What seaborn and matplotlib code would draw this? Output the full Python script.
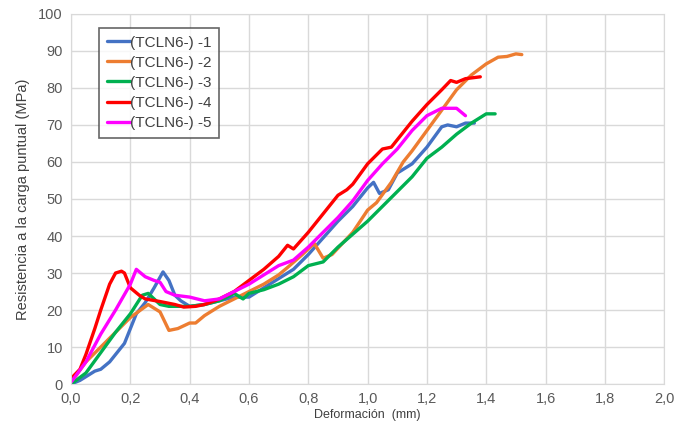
import matplotlib
matplotlib.use('Agg')
import matplotlib.pyplot as plt
import pandas as pd
import seaborn as sns

# ======== Datos ========
x1 = [0.0, 0.03, 0.05, 0.08, 0.10, 0.13, 0.15, 0.18, 0.20, 0.22, 0.25, 0.28, 0.31, 0.33, 0.35,
      0.37, 0.40, 0.45, 0.50, 0.55, 0.60, 0.65, 0.70, 0.75, 0.80, 0.85, 0.90, 0.95, 1.00,
      1.02, 1.04, 1.07, 1.10, 1.15, 1.20, 1.25, 1.27, 1.30, 1.33, 1.36]
y1 = [0.0, 1.0, 2.0, 3.5, 4.0, 6.0, 8.0, 11.0, 15.0, 19.0, 22.0, 26.0, 30.3, 28.0, 24.0,
      22.5, 21.0, 21.5, 22.5, 23.5, 23.5, 26.0, 28.5, 31.0, 35.0, 39.5, 44.0, 48.0, 53.0,
      54.5, 51.5, 52.5, 57.0, 59.5, 64.0, 69.5, 70.0, 69.5, 70.5, 70.5]

x2 = [0.0, 0.05, 0.10, 0.15, 0.20, 0.26, 0.28, 0.30, 0.33, 0.36, 0.40, 0.42, 0.45, 0.50,
      0.55, 0.60, 0.65, 0.70, 0.73, 0.78, 0.82, 0.85, 0.88, 0.95, 1.00, 1.03, 1.08, 1.12,
      1.15, 1.20, 1.25, 1.30, 1.35, 1.40, 1.44, 1.47, 1.50, 1.52]
y2 = [0.5, 6.0, 10.0, 14.0, 18.0, 21.5, 20.5, 19.5, 14.5, 15.0, 16.5, 16.5, 18.5, 21.0,
      23.0, 25.0, 27.0, 29.5, 31.5, 35.0, 38.0, 34.0, 35.0, 41.0, 47.0, 49.0, 54.5, 60.0,
      63.0, 68.5, 74.0, 79.5, 83.5, 86.5, 88.3, 88.5, 89.2, 89.0]

x3 = [0.0, 0.05, 0.10, 0.15, 0.20, 0.24, 0.26, 0.28, 0.30, 0.33, 0.35, 0.40, 0.45, 0.50,
      0.55, 0.58, 0.60, 0.65, 0.70, 0.75, 0.80, 0.85, 0.90, 0.95, 1.00, 1.05, 1.10, 1.15,
      1.20, 1.25, 1.30, 1.35, 1.40, 1.43]
y3 = [0.0, 3.0, 8.5, 14.0, 19.0, 24.0, 24.5, 23.0, 21.5, 21.0, 21.0, 21.0, 21.5, 22.5,
      24.5, 23.0, 24.5, 25.5, 27.0, 29.0, 32.0, 33.0, 37.0, 40.5, 44.0, 48.0, 52.0, 56.0,
      61.0, 64.0, 67.5, 70.5, 73.0, 73.0]

x4 = [0.0, 0.03, 0.05, 0.08, 0.10, 0.13, 0.15, 0.17, 0.18, 0.20, 0.23, 0.25, 0.30, 0.35,
      0.38, 0.42, 0.45, 0.50, 0.55, 0.60, 0.65, 0.70, 0.73, 0.75, 0.80, 0.85, 0.90, 0.93,
      0.95, 1.00, 1.05, 1.08, 1.10, 1.15, 1.20, 1.25, 1.28, 1.30, 1.33, 1.38]
y4 = [1.5, 4.0, 8.0, 15.0, 20.0, 27.0, 30.0, 30.5, 30.0, 26.0, 24.0, 23.0, 22.3, 21.5,
      20.8, 21.0, 21.5, 23.0, 25.0, 28.0, 31.0, 34.5, 37.5, 36.5, 41.0, 46.0, 51.0, 52.5,
      54.0, 59.5, 63.5, 64.0, 66.0, 71.0, 75.5, 79.5, 82.0, 81.5, 82.5, 83.0]

x5 = [0.0, 0.05, 0.10, 0.15, 0.20, 0.22, 0.25, 0.28, 0.30, 0.32, 0.35, 0.40, 0.45, 0.50,
      0.55, 0.60, 0.65, 0.70, 0.75, 0.80, 0.85, 0.90, 0.95, 1.00, 1.05, 1.10, 1.15, 1.20,
      1.25, 1.30, 1.33]
y5 = [0.5, 6.0, 13.5, 20.0, 27.0, 31.0, 29.0, 28.0, 27.5, 25.0, 24.0, 23.5, 22.5, 23.0,
      25.0, 27.0, 29.5, 32.0, 33.5, 37.0, 41.0, 45.0, 49.5, 55.0, 59.5, 63.5, 68.5, 72.5,
      74.5, 74.5, 72.5]

series = ['(TCLN6-) -1', '(TCLN6-) -2', '(TCLN6-) -3', '(TCLN6-) -4', '(TCLN6-) -5']
colores = ['#4472C4', '#ED7D31', '#00B050', '#FF0000', '#FF00FF']

x_ticks = [0.0, 0.2, 0.4, 0.6, 0.8, 1.0, 1.2, 1.4, 1.6, 1.8, 2.0]
x_labels = ['0,0', '0,2', '0,4', '0,6', '0,8', '1,0', '1,2', '1,4', '1,6', '1,8', '2,0']
y_ticks = [0, 10, 20, 30, 40, 50, 60, 70, 80, 90, 100]

# Tabla larga para seaborn
partes = []
for nombre, xs, ys in zip(series, [x1, x2, x3, x4, x5], [y1, y2, y3, y4, y5]):
    partes.append(pd.DataFrame({'x': xs, 'y': ys, 'serie': nombre}))
df = pd.concat(partes, ignore_index=True)

sns.set_style('white')
plt.rcParams['font.family'] = ['Liberation Sans', 'DejaVu Sans']

fig, ax = plt.subplots(figsize=(6.77, 4.34), dpi=100)
fig.subplots_adjust(left=0.105, right=0.981, top=0.968, bottom=0.115)

sns.lineplot(data=df, x='x', y='y', hue='serie', palette=colores, sort=False,
             estimator=None, linewidth=2.4, ax=ax, legend=False)

ax.set_xlim(0, 2.0)
ax.set_ylim(0, 100)
ax.set_xticks(x_ticks)
ax.set_xticklabels(x_labels)
ax.set_yticks(y_ticks)
ax.grid(True, color='#D9D9D9', linewidth=1)
ax.set_axisbelow(True)
for s in ax.spines.values():
    s.set_color('#D9D9D9')
ax.tick_params(axis='both', length=0, labelsize=10.5, labelcolor='#595959', pad=6)

ax.set_xlabel('Deformación  (mm)', fontsize=9, color='#404040', labelpad=2)
ax.set_ylabel('Resistencia a la carga puntual (MPa)', fontsize=10.5, color='#404040', labelpad=6)

handles = [plt.Line2D([], [], color=c, linewidth=2.4) for c in colores]
leg = ax.legend(handles, series, loc='upper left', bbox_to_anchor=(0.047, 0.962),
                borderaxespad=0, fontsize=11, frameon=True, fancybox=False,
                handlelength=1.5, handletextpad=0.0, labelspacing=0.4, borderpad=0.5)
leg.get_frame().set_edgecolor('#404040')
leg.get_frame().set_linewidth(1.2)
for t in leg.get_texts():
    t.set_color('#404040')

fig.savefig('out.png', dpi=100)
